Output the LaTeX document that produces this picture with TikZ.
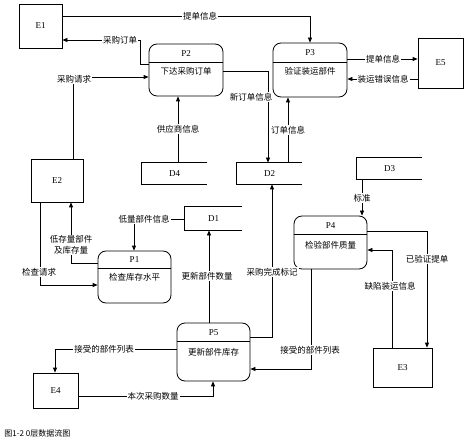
\documentclass[tikz,border=0pt]{standalone}
\usepackage{fontspec}
\setmainfont{Liberation Serif}
\newfontfamily\cjk{Noto Sans CJK SC}
\usetikzlibrary{arrows.meta}
\begin{document}
\begin{tikzpicture}[x=1pt,y=-1pt,
  line width=0.8pt,
  proc/.style={draw, rounded corners=8pt, inner sep=0pt},
  ent/.style={draw, inner sep=0pt, font=\fontsize{9}{10}\selectfont},
  store/.style={inner sep=0pt, font=\fontsize{9}{10}\selectfont},
  ptitle/.style={font=\fontsize{9}{10}\selectfont, inner sep=0pt},
  ptext/.style={font=\cjk\fontsize{8.5}{10}\selectfont, inner sep=0pt},
  lbl/.style={font=\cjk\fontsize{8.5}{10.5}\selectfont, fill=white, inner sep=1pt},
  flow/.style={-{Triangle[length=5pt,width=4pt]}},
]
\useasboundingbox (0,0) rectangle (470,443);

% processes
\node[proc, minimum width=74pt, minimum height=52pt] (P2) at (186,70) {};
\node[ptitle] (P2t) at (186,54) {P2};
\node[ptext] (P2x) at (186,71) {下达采购订单};
\draw (P2.west |- 0,62) -- (P2.east |- 0,62);

\node[proc, minimum width=74pt, minimum height=54pt] (P3) at (310,70) {};
\node[ptitle] (P3t) at (310,53) {P3};
\node[ptext] (P3x) at (310,71) {验证装运部件};
\draw (P3.west |- 0,62) -- (P3.east |- 0,62);

\node[proc, minimum width=73pt, minimum height=52pt] (P1) at (134.5,277) {};
\node[ptitle] (P1t) at (134.5,260) {P1};
\node[ptext] (P1x) at (134.5,277) {检查库存水平};
\draw (P1.west |- 0,268) -- (P1.east |- 0,268);

\node[proc, minimum width=73pt, minimum height=53pt] (P4) at (330.5,242.5) {};
\node[ptitle] (P4t) at (330.5,226) {P4};
\node[ptext] (P4x) at (330.5,245) {检验部件质量};
\draw (P4.west |- 0,234) -- (P4.east |- 0,234);

\node[proc, minimum width=73pt, minimum height=58pt] (P5) at (213.5,352) {};
\node[ptitle] (P5t) at (213.5,333) {P5};
\node[ptext] (P5x) at (213.5,352) {更新部件库存};
\draw (P5.west |- 0,341) -- (P5.east |- 0,341);

% entities
\node[ent, minimum width=43pt, minimum height=44pt] (E1) at (40.5,26) {E1};
\node[ent, minimum width=52pt, minimum height=43pt] (E2) at (57,180.5) {E2};
\node[ent, minimum width=45pt, minimum height=50pt] (E5) at (440.5,63) {E5};
\node[ent, minimum width=59pt, minimum height=39pt] (E3) at (402.5,367.5) {E3};
\node[ent, minimum width=45pt, minimum height=35pt] (E4) at (55.5,390.5) {E4};

% data stores
\node[store, minimum width=65pt, minimum height=21pt] (D4) at (174.5,173.5) {D4};
\draw (D4.north east) -- (D4.north west) -- (D4.south west) -- (D4.south east);
\node[store, minimum width=65pt, minimum height=21pt] (D2) at (269.5,173.5) {D2};
\draw (D2.north east) -- (D2.north west) -- (D2.south west) -- (D2.south east);
\node[store, minimum width=65pt, minimum height=21pt] (D3) at (389.5,168.5) {D3};
\draw (D3.north east) -- (D3.north west) -- (D3.south west) -- (D3.south east);
\node[store, minimum width=57pt, minimum height=23pt] (D1) at (213.5,218.5) {D1};
\draw (D1.north east) -- (D1.north west) -- (D1.south west) -- (D1.south east);

% flows
\draw[flow] (E1.east |- 0,16) -- (310,16) -- (P3.north);
\draw[flow] (P2.west |- 0,64) -- (140,64) -- (140,40) -- (E1.east |- 0,40);
\draw[flow] (73,0 |- E2.north) -- (73,77) -- (P2.west |- 0,77);
\draw[flow] (P2.east |- 0,71) -- (268,71) -- (268,0 |- D2.north);
\draw[flow] (288,0 |- D2.north) -- (288,0 |- P3.south);
\draw[flow] (178,0 |- D4.north) -- (178,0 |- P2.south);
\draw[flow] (P3.east |- 0,59) -- (E5.west |- 0,59);
\draw[flow] (E5.west |- 0,79) -- (P3.east |- 0,79);
\draw[flow] (D1.west |- 0,219) -- (134,219) -- (134,0 |- P1.north);
\draw[flow] (40,0 |- E2.south) -- (40,285) -- (P1.west |- 0,285);
\draw[flow] (P1.west |- 0,263) -- (71,263) -- (71,0 |- E2.south);
\draw[flow] (209,0 |- P5.north) -- (209,0 |- D1.south);
\draw[flow] (P5.east |- 0,337) -- (272,337) -- (272,0 |- D2.south);
\draw[flow] (362,0 |- D3.south) -- (362,0 |- P4.north);
\draw[flow] (P4.east |- 0,231) -- (427,231) -- (427,0 |- E3.north);
\draw[flow] (392,0 |- E3.north) -- (392,250) -- (P4.east |- 0,250);
\draw[flow] (311,0 |- P4.south) -- (311,369) -- (P5.east |- 0,369);
\draw[flow] (P5.west |- 0,349) -- (55,349) -- (55,0 |- E4.north);
\draw[flow] (E4.east |- 0,396) -- (213,396) -- (213,0 |- P5.south);

% labels
\node[lbl] (l1) at (200,16) {提单信息};
\node[lbl] (l2) at (120,40) {采购订单};
\node[lbl] (l3) at (74,79) {采购请求};
\node[lbl] (l4) at (251,97) {新订单信息};
\node[lbl] (l5) at (288,130) {订单信息};
\node[lbl] (l6) at (178,129) {供应商信息};
\node[lbl] (l7) at (383,59) {提单信息};
\node[lbl] (l8) at (383,79) {装运错误信息};
\node[lbl] (l9) at (144,219) {低量部件信息};
\node[lbl] (l10) at (39,272) {检查请求};
\node[lbl, align=center] (l11) at (71,245) {低存量部件\\及库存量};
\node[lbl] (l12) at (207,276) {更新部件数量};
\node[lbl] (l13) at (272,272) {采购完成标记};
\node[lbl] (l14) at (362,198) {标准};
\node[lbl] (l15) at (427,259) {已验证提单};
\node[lbl] (l16) at (390,286) {缺陷装运信息};
\node[lbl] (l17) at (310,350) {接受的部件列表};
\node[lbl] (l18) at (104,349) {接受的部件列表};
\node[lbl] (l19) at (153,396) {本次采购数量};

\node[anchor=west, font=\cjk\fontsize{8}{9}\selectfont, inner sep=0pt] (cap) at (4,433) {图1-2 0层数据流图};
\end{tikzpicture}
\end{document}
